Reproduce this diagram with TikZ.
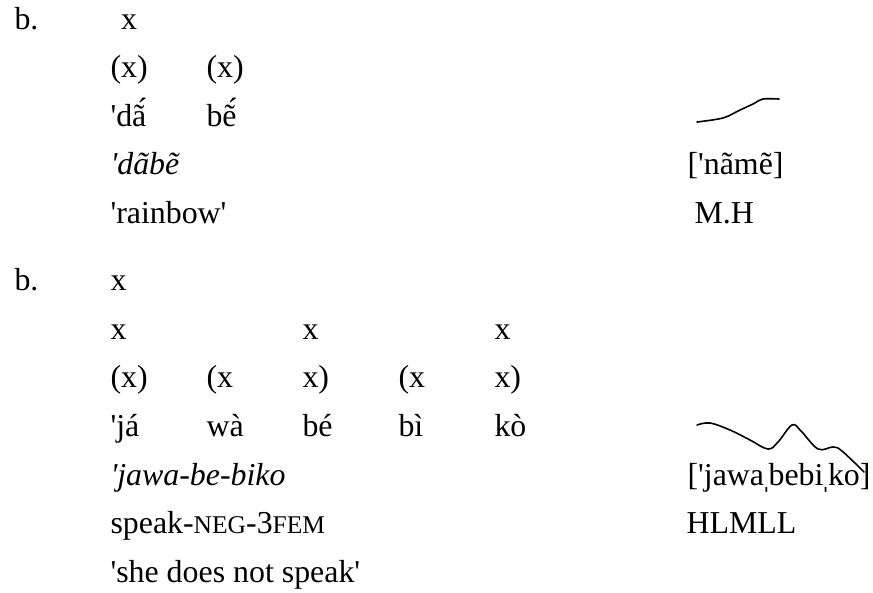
\documentclass[tikz,border=0pt]{standalone}
\usepackage{fontspec}
\newfontfamily\glossfont{Liberation Serif}
\usetikzlibrary{positioning}

% fake small capitals, as in the gloss line
\newcommand{\glosscap}[1]{{\fontsize{9.6}{10}\selectfont #1}}
% narrow secondary stress mark
\newcommand{\secstress}{\makebox[1.7pt]{ˌ}}

\begin{document}
\begin{tikzpicture}[
  x=0.013229cm, y=-0.013229cm,
  font=\glossfont\fontsize{12}{14}\selectfont,
  tier/.style={anchor=base west, inner sep=0pt},
  pitch/.style={line width=0.6pt, line cap=round}
]
\useasboundingbox (0,0) rectangle (873,592);

% Premier exemple
\node[tier] (labelA) at (14,29) {b.};
\node[tier] (footA1) at (110,77.5) {(x)};
\node[tier] (footA2) at (206,77.5) {(x)};
\node[tier, anchor=base] (gridA) at (footA1.base |- labelA.base) {x};
\node[tier] (sylA1) at (110,126) {'dã́};
\node[tier] (sylA2) at (206,126) {bẽ́};
\node[tier] (wordA) at (110,174.5) {\itshape 'dãbẽ};
\node[tier] (transA) at (110,223) {'rainbow'};

\node[tier] (phonA) at (687,174.5) {['nãmẽ]};
\node[tier] (toneA) at (694,223) {M.H};
\draw[pitch] plot[smooth] coordinates {(697,122) (723,118) (740,110) (753,104) (763,99) (779,99)};

% Deuxième exemple
\node[tier] (labelB) at (14,290) {b.};
\node[tier] (gridB) at (110,290) {x};
\foreach \k in {0,2,4} {
  \node[tier] (gridB\k) at (110+96*\k,339) {x};
}
\foreach \k/\f in {0/{(x)},1/{(x},2/{x)},3/{(x},4/{x)}} {
  \node[tier] (footB\k) at (110+96*\k,387.5) {\f};
}
\foreach \k/\s in {0/{'já},1/{wà},2/{bé},3/{bì},4/{kò}} {
  \node[tier] (sylB\k) at (110+96*\k,436) {\s};
}
\node[tier] (wordB) at (110,485) {\itshape 'jawa-be-biko};
\node[tier] (glossB) at (110,533.5) {speak-\glosscap{NEG}-3\glosscap{FEM}};
\node[tier] (transB) at (110,582) {'she does not speak'};

\node[tier] (phonB) at (687,485) {['jawa\secstress bebi\secstress ko]};
\node[tier] (toneB) at (686,533.5) {HLMLL};
\draw[pitch] plot[smooth, tension=0.6] coordinates {(697,425) (710,423) (730,430) (750,440) (768,449) (778,442) (792,425) (801,431) (818,449) (833,447) (842,451) (864,472)};
\end{tikzpicture}
\end{document}
